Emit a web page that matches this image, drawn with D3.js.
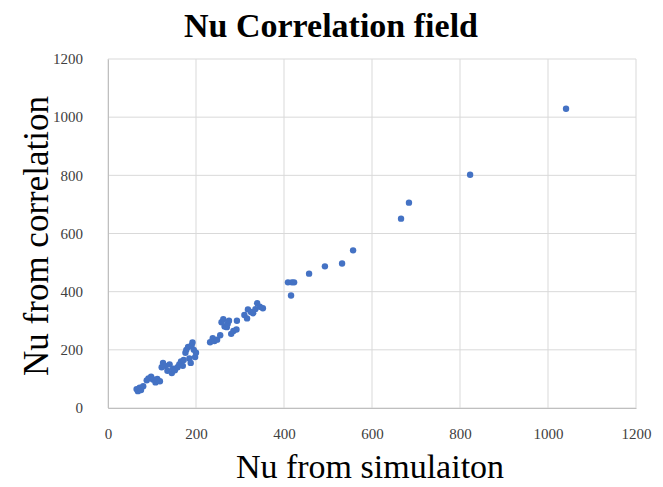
<!DOCTYPE html>
<html><head><meta charset="utf-8">
<script src="https://cdn.jsdelivr.net/npm/d3@7"></script>
<style>body{margin:0;background:#fff}svg{display:block}</style>
</head><body>
<script>
const title = "Nu Correlation field";
const xLabel = "Nu from simulaiton";
const yLabel = "Nu from correlation";
const xTicks = [0,200,400,600,800,1000,1200];
const yTicks = [0,200,400,600,800,1000,1200];
const simX = [65,68,72,75,80,88,92,98,102,108,112,118,122,125,130,135,140,145,148,152,158,162,166,170,172,176,178,182,185,188,190,192,195,198,200,
232,238,242,248,255,258,262,265,270,272,275,280,285,292,293,310,316,318,325,330,335,339,345,352,
409,416,418,423,457,493,532,557,666,684,823,1041];
const corrY = [65,58,70,62,75,95,102,108,98,88,100,92,140,155,145,128,150,120,135,130,140,150,160,145,165,190,200,210,170,155,215,225,200,175,190,
226,240,230,235,250,295,305,280,278,290,300,255,265,270,300,320,308,339,330,326,340,360,348,343,
432,387,432,432,462,487,497,542,651,706,802,1029];

const W=663,H=487;
const m={l:108,r:27,t:59,b:79};
const svg=d3.select("body").append("svg").attr("width",W).attr("height",H);
const x=d3.scaleLinear().domain([0,1200]).range([m.l,W-m.r]);
const y=d3.scaleLinear().domain([0,1200]).range([H-m.b,m.t]);
const grid="#d9d9d9";
const serif="'Liberation Serif', 'Times New Roman', serif";
svg.append("g").selectAll("line").data(xTicks).join("line")
 .attr("x1",d=>x(d)).attr("x2",d=>x(d)).attr("y1",y(0)).attr("y2",y(1200))
 .attr("stroke",grid).attr("stroke-width",1);
svg.append("g").selectAll("line").data(yTicks).join("line")
 .attr("x1",x(0)).attr("x2",x(1200)).attr("y1",d=>y(d)).attr("y2",d=>y(d))
 .attr("stroke",grid).attr("stroke-width",1);
const xa=svg.append("g").attr("transform",`translate(0,${y(0)})`)
 .call(d3.axisBottom(x).tickValues(xTicks).tickFormat(d3.format("d")).tickSize(0).tickPadding(20));
xa.attr("font-family",null).attr("font-size",null);
xa.select(".domain").attr("stroke","#bfbfbf");
xa.selectAll("text").style("font-family",serif).style("font-size","15px").attr("fill","#404040");
const ya=svg.append("g").attr("transform",`translate(${x(0)},0)`)
 .call(d3.axisLeft(y).tickValues(yTicks).tickFormat(d3.format("d")).tickSize(0).tickPadding(25));
ya.attr("font-family",null).attr("font-size",null);
ya.select(".domain").attr("stroke","#bfbfbf");
ya.selectAll("text").style("font-family",serif).style("font-size","15px").attr("fill","#404040");
const pts=simX.map((v,i)=>({x:v,y:corrY[i]}));
svg.append("g").selectAll("circle").data(pts).join("circle")
 .attr("cx",d=>x(d.x)).attr("cy",d=>y(d.y)).attr("r",3.2).attr("fill","#4472C4");
svg.append("text").attr("x",331).attr("y",37).attr("text-anchor","middle")
 .style("font-family",serif).attr("font-weight","bold").style("font-size","34px").attr("fill","#000").text(title);
svg.append("text").attr("x",370).attr("y",478).attr("text-anchor","middle")
 .style("font-family",serif).style("font-size","34px").attr("fill","#000").text(xLabel);
svg.append("text").attr("transform","translate(48,236) rotate(-90)").attr("text-anchor","middle")
 .style("font-family",serif).style("font-size","35px").attr("fill","#000").text(yLabel);
</script>
</body></html>
